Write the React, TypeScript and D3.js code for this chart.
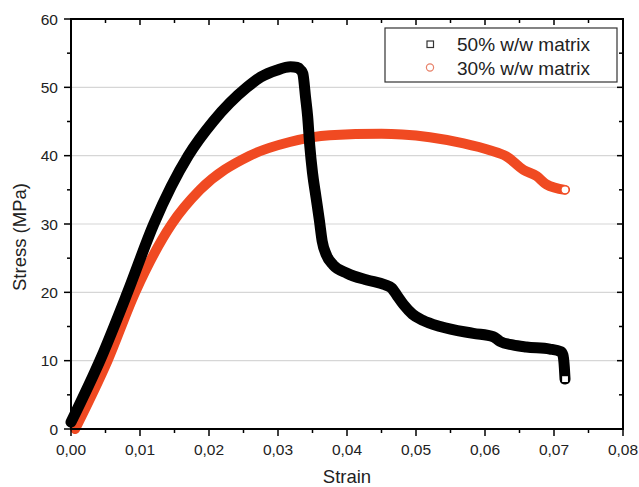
import React from "react";
import * as d3 from "d3";

const strain50 = [0, 0.0044, 0.0082, 0.0120, 0.0170, 0.0206, 0.0255, 0.0275, 0.0298, 0.0318, 0.0328, 0.0333, 0.0336, 0.0340, 0.0343, 0.0346, 0.0350, 0.0355, 0.0360, 0.0364, 0.0370, 0.0380, 0.0400, 0.0429, 0.0455, 0.0465, 0.0472, 0.0482, 0.0495, 0.0510, 0.0535, 0.0583, 0.0612, 0.0622, 0.0640, 0.0660, 0.0694, 0.0710, 0.0713, 0.0715, 0.0716];
const stress50 = [1, 10.5, 20, 30, 40, 45, 50, 51.5, 52.5, 53.0, 52.9, 52.5, 52.0, 48.5, 45.7, 41.5, 37.5, 34.0, 30.5, 27.5, 25.5, 24.0, 22.8, 21.8, 21.1, 20.6, 19.6, 18.2, 16.8, 15.9, 15.0, 14.0, 13.5, 12.8, 12.3, 12.0, 11.7, 11.3, 10.8, 9.0, 7.3];

const strain30 = [0.0006, 0.0053, 0.0093, 0.0146, 0.0187, 0.0259, 0.0317, 0.0375, 0.0450, 0.0480, 0.0520, 0.0569, 0.0607, 0.0631, 0.0656, 0.0675, 0.0689, 0.0716];
const stress30 = [0, 10, 20, 30, 35, 40, 42, 43.0, 43.2, 43.1, 42.7, 41.8, 40.8, 39.9, 37.9, 37.0, 35.8, 35.0];

const xTicks = [0, 0.01, 0.02, 0.03, 0.04, 0.05, 0.06, 0.07, 0.08];
const yTicks = [0, 10, 20, 30, 40, 50, 60];
const seriesNames = ["50% w/w matrix", "30% w/w matrix"];

const BLACK = "#000000";
const RED = "#f04a22";
const FONT = "'Liberation Sans', Arial, sans-serif";

export default function App() {
  const W = 639, H = 487;
  const x = d3.scaleLinear().domain([0, 0.08]).range([71, 623]);
  const y = d3.scaleLinear().domain([0, 60]).range([429, 19]);
  const line = d3.line<[number, number]>().x(d => x(d[0])).y(d => y(d[1])).curve(d3.curveMonotoneX);
  const d50 = strain50.map((s, i) => [s, stress50[i]] as [number, number]);
  const d30 = strain30.map((s, i) => [s, stress30[i]] as [number, number]);
  const minorX = d3.range(0, 17).map(i => i * 0.005);
  const minorY = d3.range(0, 13).map(i => i * 5);
  const fmt = (v: number) => v.toFixed(2).replace(".", ",");
  const last50 = d50[d50.length - 1];
  const last30 = d30[d30.length - 1];
  return (
    <svg width={W} height={H} style={{ position: "absolute", left: 0, top: 0, background: "#fff" }} fontFamily={FONT}>
      {yTicks.slice(1, -1).map(t => (
        <line key={"g" + t} x1={x(0)} x2={x(0.08)} y1={y(t)} y2={y(t)} stroke="#d6d6d6" strokeWidth={1.2} />
      ))}
      <path d={line(d30) || ""} fill="none" stroke={RED} strokeWidth={10} strokeLinecap="round" strokeLinejoin="round" />
      <path d={line(d50) || ""} fill="none" stroke={BLACK} strokeWidth={11} strokeLinecap="round" strokeLinejoin="round" />
      <rect x={x(last50[0]) - 3.5} y={y(last50[1]) - 3.5} width={7} height={7} fill="#fff" stroke={BLACK} strokeWidth={1.2} />
      <circle cx={x(last30[0])} cy={y(last30[1])} r={4} fill="#fff" stroke={RED} strokeWidth={1.2} />
      <rect x={x(0)} y={y(60)} width={x(0.08) - x(0)} height={y(0) - y(60)} fill="none" stroke="#000" strokeWidth={2} />
      {minorX.map((t, i) => {
        const major = i % 2 === 0;
        return (
          <g key={"xt" + i}>
            <line x1={x(t)} x2={x(t)} y1={y(0)} y2={y(0) + (major ? 7 : 4)} stroke="#000" strokeWidth={1.5} />
            <line x1={x(t)} x2={x(t)} y1={y(60)} y2={y(60) + (major ? 6 : 4)} stroke="#000" strokeWidth={1.5} />
          </g>
        );
      })}
      {minorY.map((t, i) => {
        const major = i % 2 === 0;
        return (
          <g key={"yt" + i}>
            <line x1={x(0)} x2={x(0) - (major ? 7 : 4)} y1={y(t)} y2={y(t)} stroke="#000" strokeWidth={1.5} />
            <line x1={x(0.08)} x2={x(0.08) - (major ? 6 : 4)} y1={y(t)} y2={y(t)} stroke="#000" strokeWidth={1.5} />
          </g>
        );
      })}
      {xTicks.map(t => (
        <text key={"xl" + t} x={x(t)} y={455} textAnchor="middle" fontSize={15.5} fill="#222">{fmt(t)}</text>
      ))}
      {yTicks.map(t => (
        <text key={"yl" + t} x={58} y={y(t) + 5.5} textAnchor="end" fontSize={15.5} fill="#222">{t}</text>
      ))}
      <text x={347} y={483} textAnchor="middle" fontSize={18.5} fill="#222">Strain</text>
      <text transform={`translate(26,237) rotate(-90)`} textAnchor="middle" fontSize={18.5} fill="#222">Stress (MPa)</text>
      <rect x={385} y={28} width={232} height={54} fill="#fff" stroke="#333" strokeWidth={1.2} />
      <rect x={427} y={41} width={6.5} height={6.5} fill="#fff" stroke="#333" strokeWidth={1.2} />
      <circle cx={430} cy={67.5} r={3.6} fill="#fff" stroke="#e8826a" strokeWidth={1.2} />
      <text x={457} y={51} fontSize={19} fill="#222">{seriesNames[0]}</text>
      <text x={457} y={74.5} fontSize={19} fill="#222">{seriesNames[1]}</text>
    </svg>
  );
}
